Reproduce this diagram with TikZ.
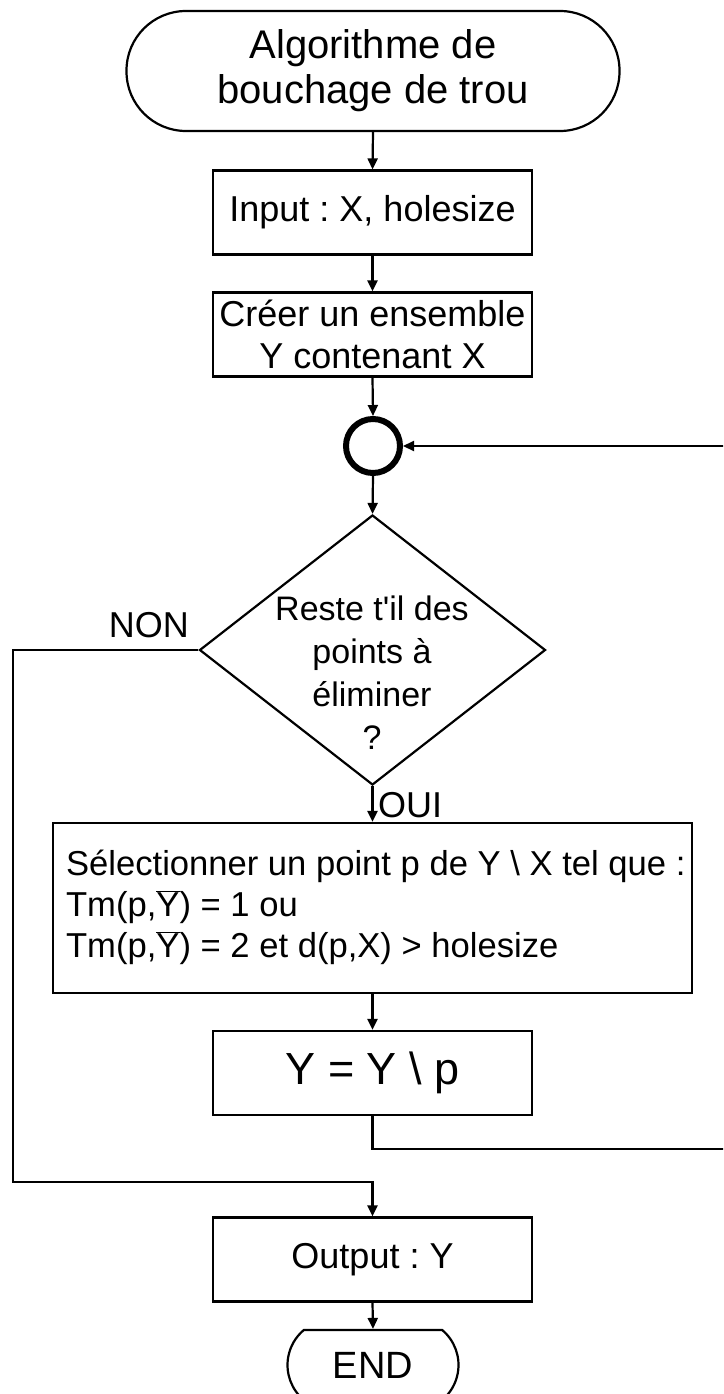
\documentclass[tikz,border=0pt]{standalone}
\usepackage{fontspec}
\setmainfont{Liberation Sans}
\usetikzlibrary{shapes.geometric,shapes.misc,arrows.meta}
\frenchspacing
\begin{document}
\begin{tikzpicture}[x=1pt,y=-1pt,
  line width=2.2pt,
  box/.style={draw, rectangle, minimum width=319pt, minimum height=84pt, inner sep=0pt, align=center, font=\fontsize{36}{42}\selectfont},
  arr/.style={-{Triangle[length=11pt,width=10pt]}},
  lbl/.style={inner sep=0pt, font=\fontsize{36}{42}\selectfont}]
\path[use as bounding box, clip] (0,0) rectangle (723,1394);

\node[draw, rectangle, rounded corners=59.5pt, minimum width=493pt, minimum height=120pt, inner sep=0pt, align=center, font=\fontsize{40}{45}\selectfont] (start) at (373,71) {Algorithme de\\bouchage de trou};
\node[box] (input) at (372.5,212.5) {Input : X, holesize};
\node[box] (creer) at (372.5,334.5) {Cr\'eer un ensemble\\Y contenant X};
\node[draw, circle, line width=6pt, minimum size=54pt, inner sep=0pt] (circ) at (373,446) {};
\node[draw, diamond, minimum width=346pt, minimum height=270pt, inner sep=0pt] (dec) at (372.5,650) {};
\node[inner sep=0pt, align=center, font=\fontsize{34}{43}\selectfont] (dectext) at (372,673) {Reste t\textquotesingle il des\\points \`a\\\'eliminer\\?};
\node[draw, rectangle, minimum width=639pt, minimum height=170pt, inner sep=0pt] (sel) at (372.5,908) {};
\node[anchor=north west, inner sep=0pt, align=left, font=\fontsize{34.6}{41}\selectfont] (seltext) at (65,849) {S\'electionner un point p de Y \textbackslash{} X tel que :\\Tm(p,$\overline{\mbox{Y}}$) = 1 ou\\Tm(p,$\overline{\mbox{Y}}$) = 2 et d(p,X) > holesize};
\node[box, font=\fontsize{45}{50}\selectfont] (ybox) at (372.5,1073) {Y = Y \textbackslash{} p};
\node[box] (out) at (372.5,1259.5) {Output : Y};
\node[draw, rounded rectangle, rounded rectangle arc length=100, minimum width=171pt, minimum height=70pt, inner sep=0pt, font=\fontsize{38}{44}\selectfont] (end) at (373,1365) {END};

\node[lbl, anchor=base east] (non) at (190,637) {NON};
\node[lbl, anchor=base west] (oui) at (377,817) {OUI};

\coordinate (loopA) at (740,1149);
\coordinate (nonA) at (13,1182);

\draw[arr] (start.south) -- (input.north);
\draw[arr] (input.south) -- (creer.north);
\draw[arr] (creer.south) -- (circ.north);
\draw[arr] (circ.south) -- (dec.north);
\draw[arr] (dec.south) -- (sel.north);
\draw[arr] (sel.south) -- (ybox.north);
\draw[arr] (ybox.south) |- (loopA) |- (circ.east);
\draw[arr] (dec.west) -| (nonA) -| (out.north);
\draw[arr] (out.south) -- (end.north);
\end{tikzpicture}
\end{document}
